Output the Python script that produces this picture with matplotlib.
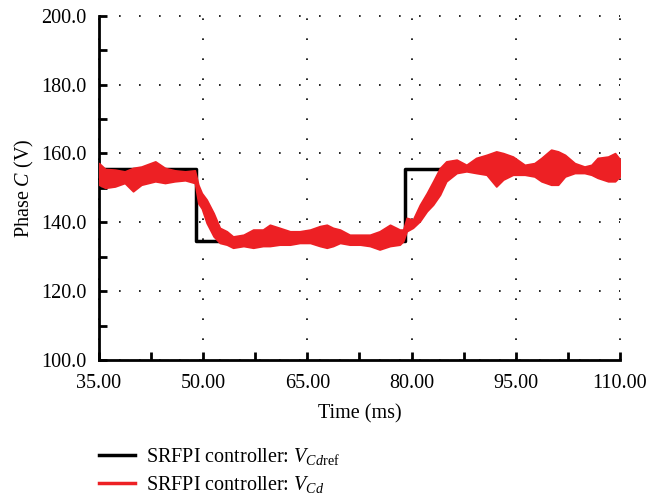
import matplotlib
matplotlib.use("Agg")
import matplotlib.pyplot as plt
from matplotlib.ticker import FormatStrFormatter
from matplotlib.lines import Line2D

plt.rcParams['font.family'] = 'Liberation Serif'
plt.rcParams['mathtext.fontset'] = 'custom'
plt.rcParams['mathtext.rm'] = 'Liberation Serif'
plt.rcParams['mathtext.it'] = 'Liberation Serif:italic'

# reference voltage steps (ms, V)
ref_t = [35.0, 49.0, 49.0, 79.0, 79.0, 110.0]
ref_v = [155.5, 155.5, 134.5, 134.5, 155.5, 155.5]

# measured V_Cd: ripple band, upper and lower envelope (ms, V)
vcd_t = [35.0, 35.9, 37.3, 38.7, 39.9, 41.1, 43.1, 44.5, 45.9, 47.4, 48.8, 49.3,
         49.8, 50.5, 51.5, 52.4, 53.4, 54.3, 55.8, 57.2, 58.6, 59.6, 61.0, 62.5,
         63.9, 65.4, 66.8, 67.8, 68.7, 69.7, 71.1, 72.6, 74.0, 75.4, 76.9, 78.3,
         78.8, 79.3, 80.2, 81.2, 82.2, 83.1, 84.1, 85.0, 86.5, 87.9, 89.3, 90.8,
         92.2, 93.2, 94.6, 96.3, 97.7, 98.7, 100.1, 101.1, 102.1, 103.5, 104.9,
         105.9, 106.8, 108.3, 109.3, 110.0]
vcd_hi = [157.2, 155.5, 155.3, 154.8, 155.8, 156.2, 157.7, 155.8, 155.1, 154.8, 155.1, 150.9,
          148.5, 146.6, 142.7, 138.4, 137.4, 135.9, 136.4, 137.9, 137.9, 139.3, 138.4, 137.4,
          137.4, 137.9, 138.9, 139.3, 138.4, 137.9, 136.4, 136.4, 136.4, 137.4, 139.3, 137.9,
          137.9, 141.3, 140.8, 145.1, 148.5, 151.9, 155.8, 157.7, 158.2, 156.7, 158.7, 159.6,
          160.6, 160.1, 159.1, 156.7, 157.2, 158.7, 161.1, 160.6, 159.6, 157.2, 156.2,
          156.7, 158.7, 159.1, 160.1, 158.3]
vcd_lo = [150.9, 150.0, 150.4, 151.4, 149.0, 150.9, 151.9, 151.4, 151.9, 152.2, 151.4, 145.5,
          144.0, 139.8, 135.9, 134.0, 133.5, 132.6, 133.1, 132.6, 133.1, 133.1, 133.5, 133.5,
          134.0, 134.0, 133.1, 132.6, 133.1, 134.0, 133.5, 133.5, 133.1, 132.1, 133.1, 133.5,
          134.5, 137.4, 138.4, 140.3, 143.2, 145.1, 148.0, 151.9, 154.3, 154.8, 154.3, 153.8,
          150.4, 152.4, 153.8, 153.8, 153.3, 151.9, 150.9, 150.9, 153.3, 154.3, 154.3,
          153.8, 152.9, 151.9, 151.9, 153.3]

x_major = [35, 50, 65, 80, 95, 110]
x_minor = [42.5, 57.5, 72.5, 87.5, 102.5]
y_major = [100, 120, 140, 160, 180, 200]
y_minor = [110, 130, 150, 170, 190]

red = '#ED2024'

fig = plt.figure(figsize=(6.61, 4.98), dpi=100)
ax = fig.add_axes([0.1498, 0.277, 0.788, 0.6915])

ax.plot(ref_t, ref_v, color='black', lw=2.5, zorder=2)
ax.fill_between(vcd_t, vcd_lo, vcd_hi, color=red, lw=1.2, edgecolor=red, zorder=3)

ax.set_xlim(35, 110)
ax.set_ylim(100, 200)
ax.set_xticks(x_major)
ax.set_xticks(x_minor, minor=True)
ax.set_yticks(y_major)
ax.set_yticks(y_minor, minor=True)
ax.xaxis.set_major_formatter(FormatStrFormatter('%.2f'))
ax.yaxis.set_major_formatter(FormatStrFormatter('%.1f'))

for s in ['top', 'right']:
    ax.spines[s].set_visible(False)
for s in ['left', 'bottom']:
    ax.spines[s].set_linewidth(2)

ax.tick_params(which='both', direction='in', length=6, width=2, labelsize=14.5)
ax.tick_params(axis='x', pad=10)
ax.tick_params(axis='y', pad=9)
ax.grid(which='major', color='black', linestyle=(0, (1, 11)), lw=1.2)
for gl in ax.get_xgridlines() + ax.get_ygridlines():
    gl.set_clip_on(False)

ax.set_xlabel('Time (ms)', fontsize=14.5, labelpad=8)
ax.set_ylabel('Phase $C$ (V)', fontsize=14.5, labelpad=4)

handles = [Line2D([], [], color='black', lw=2.5),
           Line2D([], [], color=red, lw=2.5)]
labels = ['SRFPI controller: $V_{Cd\\mathrm{ref}}$', 'SRFPI controller: $V_{Cd}$']
fig.legend(handles, labels, loc='upper left', bbox_to_anchor=(0.150, 0.104),
           frameon=False, fontsize=14.5, handlelength=1.8, handletextpad=0.55,
           labelspacing=0.35, borderpad=0, borderaxespad=0)

fig.savefig('out.png', dpi=100)
